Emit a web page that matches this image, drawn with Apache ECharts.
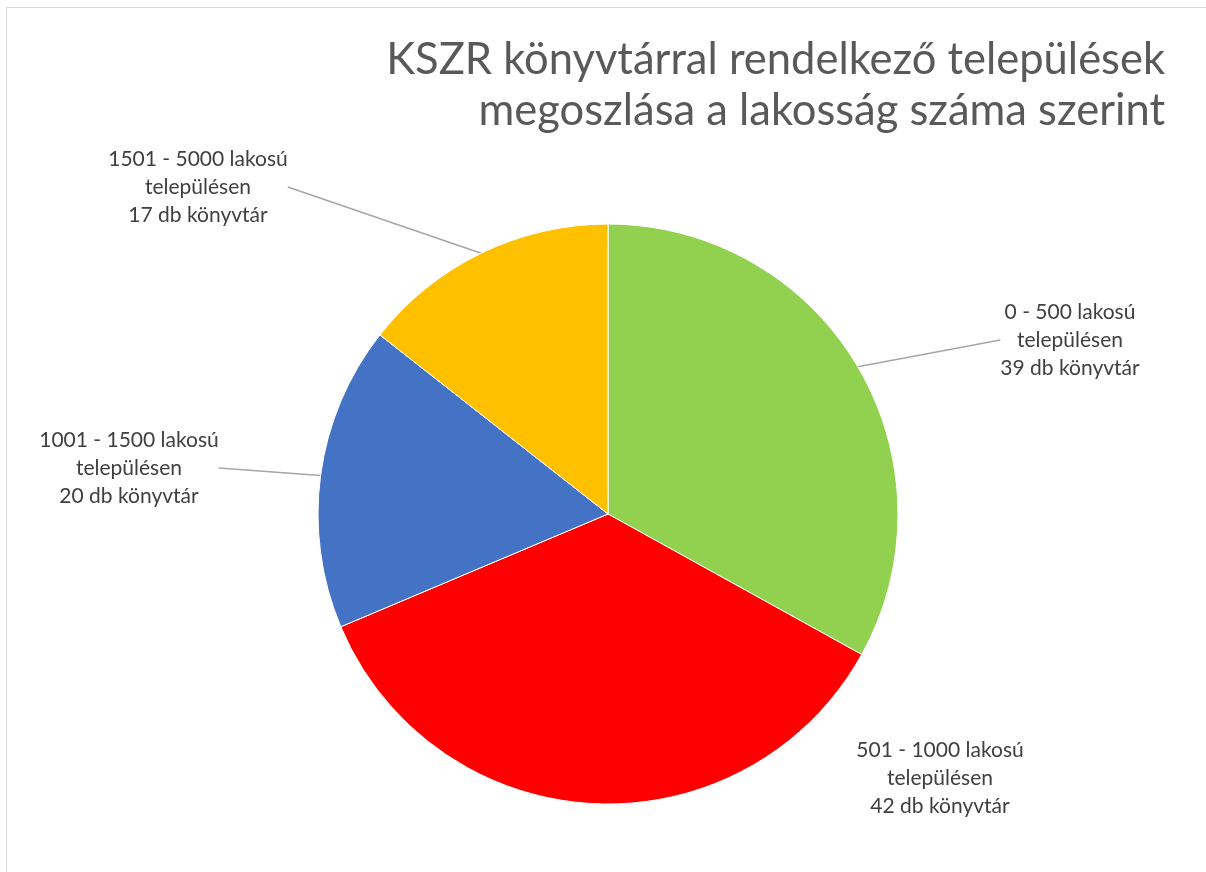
<!DOCTYPE html>
<html>
<head>
<meta charset="utf-8">
<script src="https://cdn.jsdelivr.net/npm/echarts@6/dist/echarts.min.js"></script>
<style>
  html, body { margin: 0; padding: 0; background: #fff; }
  #frame {
    position: absolute; left: 6px; top: 7px;
    width: 1210px; height: 880px;
    border: 1px solid #d9d9d9;
  }
  #chart { position: absolute; left: 0; top: 0; width: 1206px; height: 872px; }
</style>
</head>
<body>
<div id="frame"></div>
<div id="chart"></div>
<script>
// data
const categories = ['0 - 500', '501 - 1000', '1001 - 1500', '1501 - 5000'];
const counts = [39, 42, 20, 17];
const colors = ['#92d050', '#ff0000', '#4472c4', '#ffc000'];
const titleLines = ['KSZR könyvtárral rendelkező települések', 'megoszlása a lakosság száma szerint'];

// where each label sits (center of the text block)
const labelSpots = [
  [1070, 340],
  [940, 778],
  [129, 468],
  [198, 187]
];

const font = 'Lato, "Open Sans", sans-serif';

let chart = echarts.init(document.getElementById('chart'));
chart.setOption({
  animation: false,
  // title lines, each one right-aligned on its own
  graphic: titleLines.map(function (t, i) {
    return {
      type: 'text',
      right: 41,
      top: 38 + i * 51,
      style: {
        text: t,
        fontFamily: font,
        fontSize: 43.5,
        fill: '#595959'
      }
    };
  }),
  series: [{
    type: 'pie',
    center: [608, 514],
    radius: 290,
    startAngle: 90,
    clockwise: true,
    itemStyle: { borderColor: '#fff', borderWidth: 1 },
    label: {
      show: true,
      formatter: function (p) {
        return p.name + ' lakosú\ntelepülésen\n' + p.value + ' db könyvtár';
      },
      fontFamily: font,
      fontSize: 21,
      lineHeight: 28,
      color: '#404040',
      align: 'center'
    },
    labelLine: {
      show: true,
      length: 20,
      length2: 0,
      lineStyle: { color: '#a6a6a6', width: 1.5 }
    },
    labelLayout: function (params) {
      const s = labelSpots[params.dataIndex];
      return { x: s[0], y: s[1], align: 'center', verticalAlign: 'middle' };
    },
    data: categories.map(function (c, i) {
      let d = { name: c, value: counts[i], itemStyle: { color: colors[i] } };
      if (i === 1) d.labelLine = { show: false };
      return d;
    })
  }]
});
</script>
</body>
</html>
